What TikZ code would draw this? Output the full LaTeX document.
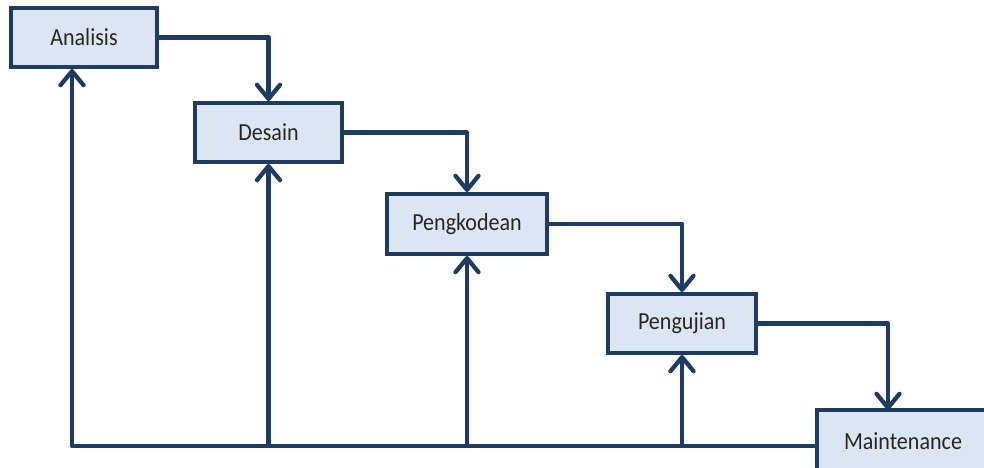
\documentclass[tikz,border=0pt]{standalone}
\usepackage{fontspec}
\setmainfont{Carlito}[FakeStretch=0.9]
\usetikzlibrary{arrows.meta,shadows}
\definecolor{navy}{HTML}{1F3B62}
\definecolor{boxfill}{HTML}{DCE6F2}
\definecolor{txt}{HTML}{262626}
\tikzset{
  stage/.style={draw=navy, line width=4pt, fill=boxfill, text=txt,
    font=\fontsize{24.5}{28}\selectfont, inner sep=0pt,
    drop shadow={shadow xshift=1.5pt, shadow yshift=-2pt, opacity=0.25}},
  flow/.style={draw=navy, line width=4.3pt, line join=round,
    -{Straight Barb[length=14pt,width=23pt,line join=round,line cap=round]}},
}
\begin{document}
\begin{tikzpicture}[x=1pt,y=-1pt]
  \useasboundingbox (0,0) rectangle (984,467);

  % process stages
  \node[stage, minimum width=146pt, minimum height=59pt] (A) at (84,37.5) {Analisis};
  \node[stage, minimum width=147pt, minimum height=59pt] (D) at (268.5,132.5) {Desain};
  \node[stage, minimum width=160pt, minimum height=60pt] (P) at (467,224) {Pengkodean};
  \node[stage, minimum width=148pt, minimum height=59pt] (U) at (682,323.5) {Pengujian};
  \node[stage, minimum width=172pt, minimum height=62pt] (M) at (903,441) {Maintenance};

  % helper points
  \coordinate (b0) at (72,446);
  \coordinate (mtop) at (888,410);

  % forward flow
  \draw[flow] (A.east) -| (D.north);
  \draw[flow] (D.east) -| (P.north);
  \draw[flow] (P.east) -| (U.north);
  \draw[flow] (U.east) -| (mtop);

  % feedback rail and returns
  \draw[flow] (M.west |- b0) -- (b0) -- (b0 |- A.south);
  \draw[flow] (D.south |- b0) -- (D.south);
  \draw[flow] (P.south |- b0) -- (P.south);
  \draw[flow] (U.south |- b0) -- (U.south);
\end{tikzpicture}
\end{document}
